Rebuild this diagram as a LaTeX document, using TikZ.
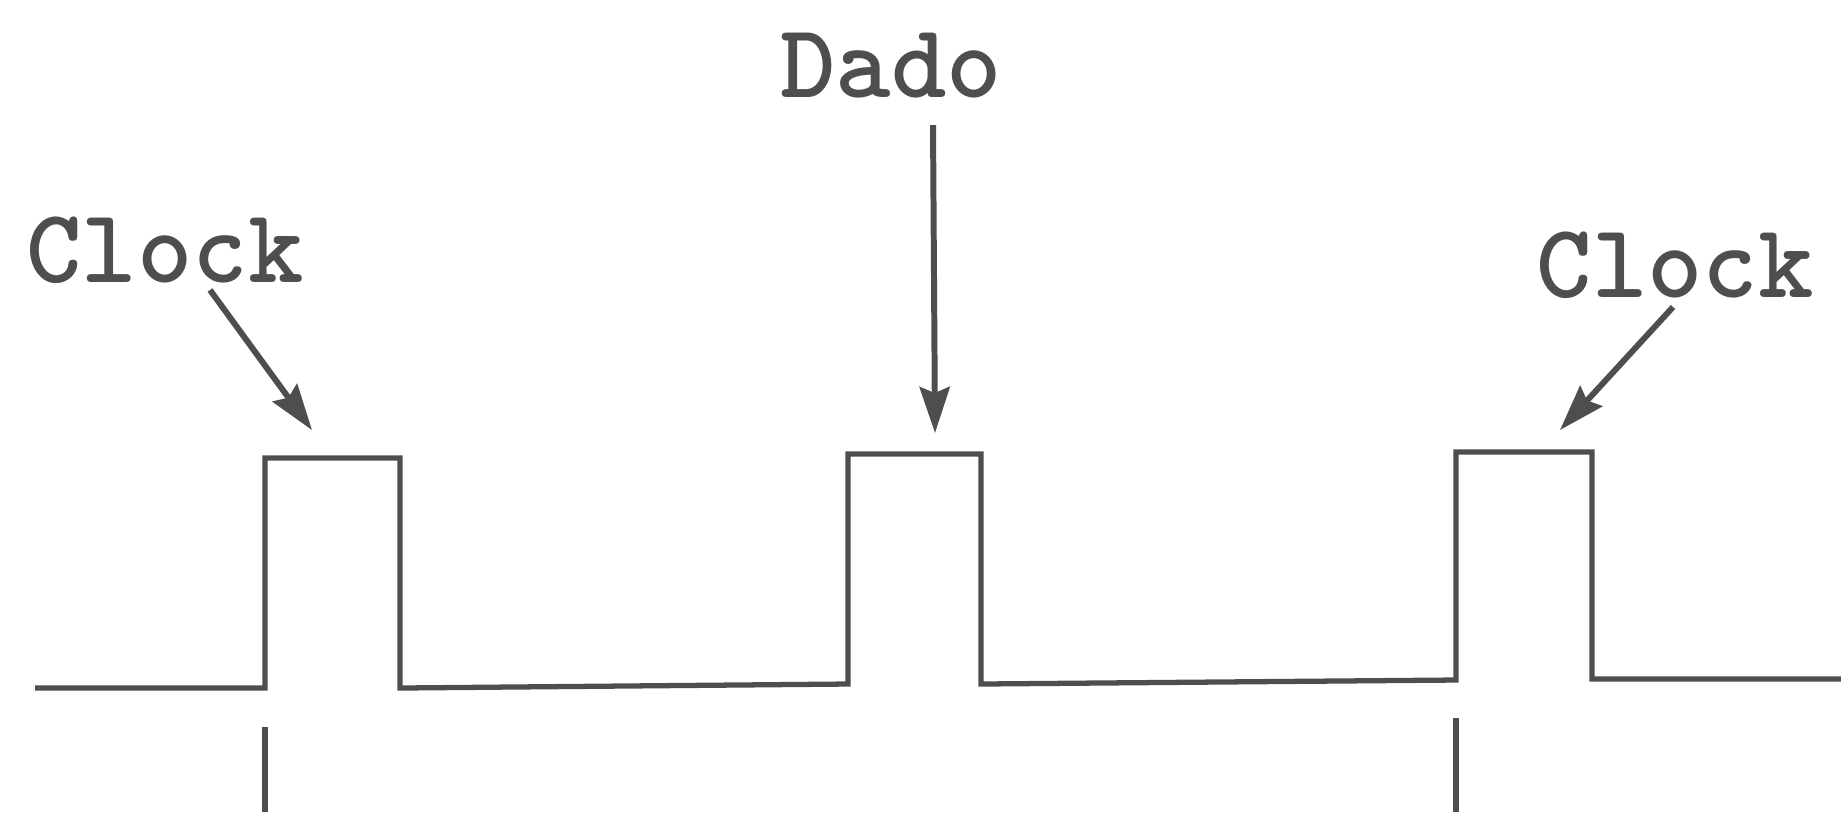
\documentclass[tikz,border=0pt]{standalone}
\usepackage{fontspec}
\usetikzlibrary{positioning,arrows.meta}
\definecolor{ink}{RGB}{78,78,78}

\begin{document}
\begin{tikzpicture}[x=0.1mm, y=-0.1mm, >={Stealth[length=4.6mm,width=3mm,inset=0.6mm]},
    signal/.style={draw=ink, line width=1.5pt, line join=miter},
    marker/.style={draw=ink, line width=1.6pt},
    pointer/.style={->, draw=ink, fill=ink, line width=1.7pt},
    label/.style={text=ink, font=\fontsize{30}{34}\selectfont\ttfamily\bfseries, inner sep=0pt}]

    \useasboundingbox (0,0) rectangle (1841,812);

    % Labels
    \node[label] (clkA) at (165,250) {Clock};
    \node[label] (dado) at (891,66) {Dado};
    \node[label] (clkB) at (1675,265) {Clock};

    % Arrow ends
    \coordinate (tailA) at (210,290);
    \coordinate (tailD) at (933,125);
    \coordinate (tailB) at (1673,307);
    \coordinate (tipA) at (312,430);
    \coordinate (tipD) at (935,433);
    \coordinate (tipB) at (1560,430);

    % Pulse train
    \draw[signal] (35,688) -- (265,688) -- (265,458) -- (400,458) -- (400,688)
        -- (848,684) -- (848,454) -- (981,454) -- (981,684)
        -- (1456,680) -- (1456,452) -- (1592,452) -- (1592,679) -- (1841,679);

    % Clock markers
    \draw[marker] (265,727) -- (265,812);
    \draw[marker] (1456,718) -- (1456,812);

    % Pointers
    \draw[pointer] (tailA) -- (tipA);
    \draw[pointer] (tailD) -- (tipD);
    \draw[pointer] (tailB) -- (tipB);

\end{tikzpicture}
\end{document}
